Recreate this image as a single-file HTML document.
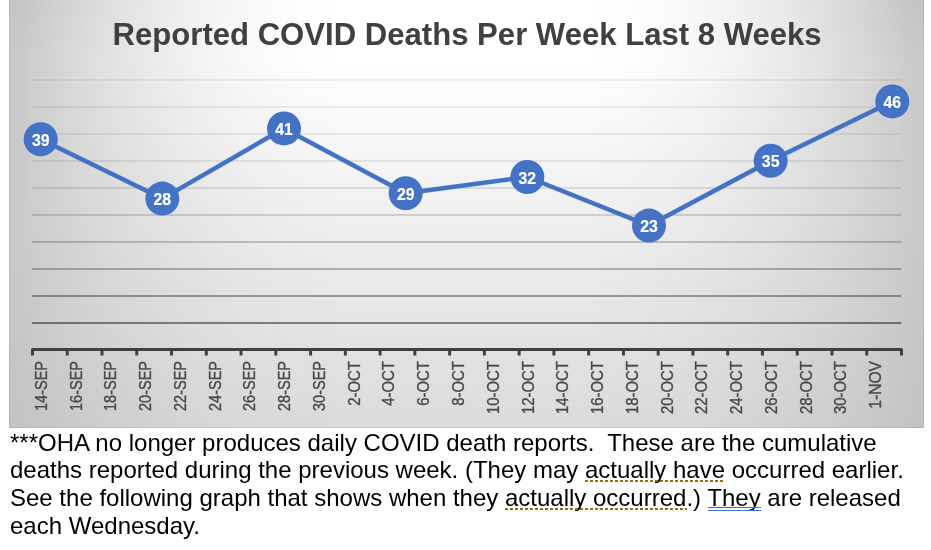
<!DOCTYPE html>
<html><head><meta charset="utf-8"><style>
html,body{margin:0;padding:0;background:#fff;width:931px;height:550px;overflow:hidden;position:relative}
.txt{position:absolute;left:10px;top:429px;width:925px;font-family:"Liberation Sans",sans-serif;font-size:24px;line-height:27.4px;color:#000;white-space:nowrap}
.dot{position:absolute;height:2px;background:repeating-linear-gradient(90deg,#9a6a14 0,#9a6a14 3px,transparent 3px,transparent 5px)}
.bl{position:absolute;height:1px;background:#3a6fdc}
</style></head><body>
<svg width="931" height="428" viewBox="0 0 931 428" style="position:absolute;left:0;top:0">
<defs><linearGradient id="vg" gradientUnits="userSpaceOnUse" x1="0" y1="0" x2="0" y2="428"><stop offset="0" stop-color="#fff"/><stop offset="0.1402" stop-color="#fff"/><stop offset="1" stop-color="rgb(219,219,219)"/></linearGradient>
<linearGradient id="hg" gradientUnits="userSpaceOnUse" x1="9" y1="0" x2="924" y2="0"><stop offset="0.0000" stop-color="rgb(255,255,255)"/><stop offset="0.0087" stop-color="rgb(255,255,255)"/><stop offset="0.0175" stop-color="rgb(248,248,248)"/><stop offset="0.0262" stop-color="rgb(236,236,236)"/><stop offset="0.0350" stop-color="rgb(225,225,225)"/><stop offset="0.0437" stop-color="rgb(214,214,214)"/><stop offset="0.0525" stop-color="rgb(203,203,203)"/><stop offset="0.0612" stop-color="rgb(193,193,193)"/><stop offset="0.0699" stop-color="rgb(183,183,183)"/><stop offset="0.0787" stop-color="rgb(173,173,173)"/><stop offset="0.0874" stop-color="rgb(163,163,163)"/><stop offset="0.0962" stop-color="rgb(154,154,154)"/><stop offset="0.1049" stop-color="rgb(145,145,145)"/><stop offset="0.1137" stop-color="rgb(136,136,136)"/><stop offset="0.1224" stop-color="rgb(128,128,128)"/><stop offset="0.1311" stop-color="rgb(120,120,120)"/><stop offset="0.1399" stop-color="rgb(112,112,112)"/><stop offset="0.1486" stop-color="rgb(104,104,104)"/><stop offset="0.1574" stop-color="rgb(97,97,97)"/><stop offset="0.1661" stop-color="rgb(90,90,90)"/><stop offset="0.1749" stop-color="rgb(83,83,83)"/><stop offset="0.1836" stop-color="rgb(76,76,76)"/><stop offset="0.1923" stop-color="rgb(70,70,70)"/><stop offset="0.2011" stop-color="rgb(64,64,64)"/><stop offset="0.2098" stop-color="rgb(58,58,58)"/><stop offset="0.2186" stop-color="rgb(53,53,53)"/><stop offset="0.2273" stop-color="rgb(47,47,47)"/><stop offset="0.2361" stop-color="rgb(42,42,42)"/><stop offset="0.2448" stop-color="rgb(38,38,38)"/><stop offset="0.2536" stop-color="rgb(33,33,33)"/><stop offset="0.2623" stop-color="rgb(29,29,29)"/><stop offset="0.2710" stop-color="rgb(25,25,25)"/><stop offset="0.2798" stop-color="rgb(22,22,22)"/><stop offset="0.2885" stop-color="rgb(18,18,18)"/><stop offset="0.2973" stop-color="rgb(15,15,15)"/><stop offset="0.3060" stop-color="rgb(13,13,13)"/><stop offset="0.3148" stop-color="rgb(10,10,10)"/><stop offset="0.3235" stop-color="rgb(8,8,8)"/><stop offset="0.3322" stop-color="rgb(6,6,6)"/><stop offset="0.3410" stop-color="rgb(4,4,4)"/><stop offset="0.3497" stop-color="rgb(3,3,3)"/><stop offset="0.3585" stop-color="rgb(2,2,2)"/><stop offset="0.3672" stop-color="rgb(1,1,1)"/><stop offset="0.3760" stop-color="rgb(0,0,0)"/><stop offset="0.3847" stop-color="rgb(0,0,0)"/><stop offset="0.3934" stop-color="rgb(0,0,0)"/><stop offset="0.4022" stop-color="rgb(0,0,0)"/><stop offset="0.4109" stop-color="rgb(0,0,0)"/><stop offset="0.4197" stop-color="rgb(0,0,0)"/><stop offset="0.4284" stop-color="rgb(0,0,0)"/><stop offset="0.4372" stop-color="rgb(0,0,0)"/><stop offset="0.4459" stop-color="rgb(0,0,0)"/><stop offset="0.4546" stop-color="rgb(0,0,0)"/><stop offset="0.4634" stop-color="rgb(0,0,0)"/><stop offset="0.4721" stop-color="rgb(0,0,0)"/><stop offset="0.4809" stop-color="rgb(0,0,0)"/><stop offset="0.4896" stop-color="rgb(0,0,0)"/><stop offset="0.4984" stop-color="rgb(0,0,0)"/><stop offset="0.5071" stop-color="rgb(0,0,0)"/><stop offset="0.5158" stop-color="rgb(0,0,0)"/><stop offset="0.5246" stop-color="rgb(0,0,0)"/><stop offset="0.5333" stop-color="rgb(0,0,0)"/><stop offset="0.5421" stop-color="rgb(0,0,0)"/><stop offset="0.5508" stop-color="rgb(0,0,0)"/><stop offset="0.5596" stop-color="rgb(0,0,0)"/><stop offset="0.5683" stop-color="rgb(0,0,0)"/><stop offset="0.5770" stop-color="rgb(0,0,0)"/><stop offset="0.5858" stop-color="rgb(0,0,0)"/><stop offset="0.5945" stop-color="rgb(0,0,0)"/><stop offset="0.6033" stop-color="rgb(0,0,0)"/><stop offset="0.6120" stop-color="rgb(0,0,0)"/><stop offset="0.6208" stop-color="rgb(0,0,0)"/><stop offset="0.6295" stop-color="rgb(1,1,1)"/><stop offset="0.6383" stop-color="rgb(2,2,2)"/><stop offset="0.6470" stop-color="rgb(3,3,3)"/><stop offset="0.6557" stop-color="rgb(4,4,4)"/><stop offset="0.6645" stop-color="rgb(6,6,6)"/><stop offset="0.6732" stop-color="rgb(7,7,7)"/><stop offset="0.6820" stop-color="rgb(10,10,10)"/><stop offset="0.6907" stop-color="rgb(12,12,12)"/><stop offset="0.6995" stop-color="rgb(15,15,15)"/><stop offset="0.7082" stop-color="rgb(18,18,18)"/><stop offset="0.7169" stop-color="rgb(21,21,21)"/><stop offset="0.7257" stop-color="rgb(24,24,24)"/><stop offset="0.7344" stop-color="rgb(28,28,28)"/><stop offset="0.7432" stop-color="rgb(32,32,32)"/><stop offset="0.7519" stop-color="rgb(37,37,37)"/><stop offset="0.7607" stop-color="rgb(41,41,41)"/><stop offset="0.7694" stop-color="rgb(46,46,46)"/><stop offset="0.7781" stop-color="rgb(51,51,51)"/><stop offset="0.7869" stop-color="rgb(57,57,57)"/><stop offset="0.7956" stop-color="rgb(62,62,62)"/><stop offset="0.8044" stop-color="rgb(68,68,68)"/><stop offset="0.8131" stop-color="rgb(74,74,74)"/><stop offset="0.8219" stop-color="rgb(81,81,81)"/><stop offset="0.8306" stop-color="rgb(88,88,88)"/><stop offset="0.8393" stop-color="rgb(95,95,95)"/><stop offset="0.8481" stop-color="rgb(102,102,102)"/><stop offset="0.8568" stop-color="rgb(110,110,110)"/><stop offset="0.8656" stop-color="rgb(118,118,118)"/><stop offset="0.8743" stop-color="rgb(126,126,126)"/><stop offset="0.8831" stop-color="rgb(134,134,134)"/><stop offset="0.8918" stop-color="rgb(143,143,143)"/><stop offset="0.9005" stop-color="rgb(152,152,152)"/><stop offset="0.9093" stop-color="rgb(161,161,161)"/><stop offset="0.9180" stop-color="rgb(171,171,171)"/><stop offset="0.9268" stop-color="rgb(180,180,180)"/><stop offset="0.9355" stop-color="rgb(190,190,190)"/><stop offset="0.9443" stop-color="rgb(201,201,201)"/><stop offset="0.9530" stop-color="rgb(211,211,211)"/><stop offset="0.9617" stop-color="rgb(222,222,222)"/><stop offset="0.9705" stop-color="rgb(233,233,233)"/><stop offset="0.9792" stop-color="rgb(245,245,245)"/><stop offset="0.9880" stop-color="rgb(255,255,255)"/><stop offset="0.9967" stop-color="rgb(255,255,255)"/></linearGradient>
<linearGradient id="eg" gradientUnits="userSpaceOnUse" x1="0" y1="0" x2="0" y2="428"><stop offset="0.0000" stop-color="rgb(196,196,196)"/><stop offset="0.1402" stop-color="rgb(202,202,202)"/><stop offset="0.5327" stop-color="rgb(202,202,202)"/><stop offset="1.0000" stop-color="rgb(195,195,195)"/></linearGradient>
<mask id="hm" maskUnits="userSpaceOnUse" x="0" y="0" width="931" height="428"><rect x="9" y="0" width="915" height="428" fill="url(#hg)"/></mask></defs>
<rect x="9" y="0" width="915" height="428" fill="url(#vg)"/>
<rect x="9" y="0" width="915" height="428" fill="url(#eg)" mask="url(#hm)"/>
<path d="M9.5 0 V427.5 H923.5 V0" fill="none" stroke="rgb(236,236,236)" stroke-width="1" style="mix-blend-mode:multiply"/>
<text x="467.1" y="45" text-anchor="middle" font-family="Liberation Sans" font-weight="bold" font-size="31.1" fill="#404040">Reported COVID Deaths Per Week Last 8 Weeks</text>
<g style="mix-blend-mode:multiply">
<line x1="32.0" y1="80.00" x2="901.0" y2="80.00" stroke="rgb(240,240,240)" stroke-width="2.0"/>
<line x1="32.0" y1="107.00" x2="901.0" y2="107.00" stroke="rgb(239,239,239)" stroke-width="2.0"/>
<line x1="32.0" y1="134.00" x2="901.0" y2="134.00" stroke="rgb(238,238,238)" stroke-width="2.0"/>
<line x1="32.0" y1="161.00" x2="901.0" y2="161.00" stroke="rgb(235,235,235)" stroke-width="2.0"/>
<line x1="32.0" y1="188.00" x2="901.0" y2="188.00" stroke="rgb(229,229,229)" stroke-width="2.0"/>
<line x1="32.0" y1="215.00" x2="901.0" y2="215.00" stroke="rgb(219,219,219)" stroke-width="2.0"/>
<line x1="32.0" y1="242.00" x2="901.0" y2="242.00" stroke="rgb(206,206,206)" stroke-width="2.0"/>
<line x1="32.0" y1="269.00" x2="901.0" y2="269.00" stroke="rgb(189,189,189)" stroke-width="2.0"/>
<line x1="32.0" y1="296.00" x2="901.0" y2="296.00" stroke="rgb(167,167,167)" stroke-width="2.0"/>
<line x1="32.0" y1="323.00" x2="901.0" y2="323.00" stroke="rgb(140,140,140)" stroke-width="2.0"/>
</g>
<path d="M32.50 355.5 V349.5 H901.50 V355.5" fill="none" stroke="#404040" stroke-width="3" stroke-linejoin="round"/>
<line x1="67.26" y1="348" x2="67.26" y2="355.5" stroke="#404040" stroke-width="3"/>
<line x1="102.02" y1="348" x2="102.02" y2="355.5" stroke="#404040" stroke-width="3"/>
<line x1="136.78" y1="348" x2="136.78" y2="355.5" stroke="#404040" stroke-width="3"/>
<line x1="171.54" y1="348" x2="171.54" y2="355.5" stroke="#404040" stroke-width="3"/>
<line x1="206.30" y1="348" x2="206.30" y2="355.5" stroke="#404040" stroke-width="3"/>
<line x1="241.06" y1="348" x2="241.06" y2="355.5" stroke="#404040" stroke-width="3"/>
<line x1="275.82" y1="348" x2="275.82" y2="355.5" stroke="#404040" stroke-width="3"/>
<line x1="310.58" y1="348" x2="310.58" y2="355.5" stroke="#404040" stroke-width="3"/>
<line x1="345.34" y1="348" x2="345.34" y2="355.5" stroke="#404040" stroke-width="3"/>
<line x1="380.10" y1="348" x2="380.10" y2="355.5" stroke="#404040" stroke-width="3"/>
<line x1="414.86" y1="348" x2="414.86" y2="355.5" stroke="#404040" stroke-width="3"/>
<line x1="449.62" y1="348" x2="449.62" y2="355.5" stroke="#404040" stroke-width="3"/>
<line x1="484.38" y1="348" x2="484.38" y2="355.5" stroke="#404040" stroke-width="3"/>
<line x1="519.14" y1="348" x2="519.14" y2="355.5" stroke="#404040" stroke-width="3"/>
<line x1="553.90" y1="348" x2="553.90" y2="355.5" stroke="#404040" stroke-width="3"/>
<line x1="588.66" y1="348" x2="588.66" y2="355.5" stroke="#404040" stroke-width="3"/>
<line x1="623.42" y1="348" x2="623.42" y2="355.5" stroke="#404040" stroke-width="3"/>
<line x1="658.18" y1="348" x2="658.18" y2="355.5" stroke="#404040" stroke-width="3"/>
<line x1="692.94" y1="348" x2="692.94" y2="355.5" stroke="#404040" stroke-width="3"/>
<line x1="727.70" y1="348" x2="727.70" y2="355.5" stroke="#404040" stroke-width="3"/>
<line x1="762.46" y1="348" x2="762.46" y2="355.5" stroke="#404040" stroke-width="3"/>
<line x1="797.22" y1="348" x2="797.22" y2="355.5" stroke="#404040" stroke-width="3"/>
<line x1="831.98" y1="348" x2="831.98" y2="355.5" stroke="#404040" stroke-width="3"/>
<line x1="866.74" y1="348" x2="866.74" y2="355.5" stroke="#404040" stroke-width="3"/>
<text transform="translate(46.89 361) rotate(-90) scale(0.9117999999999999 1)" text-anchor="end" font-family="Liberation Sans" font-size="15.9" fill="#4a4a4a" stroke="#4a4a4a" stroke-width="0.35">14-SEP</text>
<text transform="translate(81.65 361) rotate(-90) scale(0.9117999999999999 1)" text-anchor="end" font-family="Liberation Sans" font-size="15.9" fill="#4a4a4a" stroke="#4a4a4a" stroke-width="0.35">16-SEP</text>
<text transform="translate(116.41 361) rotate(-90) scale(0.9117999999999999 1)" text-anchor="end" font-family="Liberation Sans" font-size="15.9" fill="#4a4a4a" stroke="#4a4a4a" stroke-width="0.35">18-SEP</text>
<text transform="translate(151.17 361) rotate(-90) scale(0.9117999999999999 1)" text-anchor="end" font-family="Liberation Sans" font-size="15.9" fill="#4a4a4a" stroke="#4a4a4a" stroke-width="0.35">20-SEP</text>
<text transform="translate(185.93 361) rotate(-90) scale(0.9117999999999999 1)" text-anchor="end" font-family="Liberation Sans" font-size="15.9" fill="#4a4a4a" stroke="#4a4a4a" stroke-width="0.35">22-SEP</text>
<text transform="translate(220.69 361) rotate(-90) scale(0.9117999999999999 1)" text-anchor="end" font-family="Liberation Sans" font-size="15.9" fill="#4a4a4a" stroke="#4a4a4a" stroke-width="0.35">24-SEP</text>
<text transform="translate(255.45 361) rotate(-90) scale(0.9117999999999999 1)" text-anchor="end" font-family="Liberation Sans" font-size="15.9" fill="#4a4a4a" stroke="#4a4a4a" stroke-width="0.35">26-SEP</text>
<text transform="translate(290.21 361) rotate(-90) scale(0.9117999999999999 1)" text-anchor="end" font-family="Liberation Sans" font-size="15.9" fill="#4a4a4a" stroke="#4a4a4a" stroke-width="0.35">28-SEP</text>
<text transform="translate(324.97 361) rotate(-90) scale(0.9117999999999999 1)" text-anchor="end" font-family="Liberation Sans" font-size="15.9" fill="#4a4a4a" stroke="#4a4a4a" stroke-width="0.35">30-SEP</text>
<text transform="translate(359.73 361) rotate(-90) scale(0.94 1)" text-anchor="end" font-family="Liberation Sans" font-size="15.9" fill="#4a4a4a" stroke="#4a4a4a" stroke-width="0.35">2-OCT</text>
<text transform="translate(394.49 361) rotate(-90) scale(0.94 1)" text-anchor="end" font-family="Liberation Sans" font-size="15.9" fill="#4a4a4a" stroke="#4a4a4a" stroke-width="0.35">4-OCT</text>
<text transform="translate(429.25 361) rotate(-90) scale(0.94 1)" text-anchor="end" font-family="Liberation Sans" font-size="15.9" fill="#4a4a4a" stroke="#4a4a4a" stroke-width="0.35">6-OCT</text>
<text transform="translate(464.01 361) rotate(-90) scale(0.94 1)" text-anchor="end" font-family="Liberation Sans" font-size="15.9" fill="#4a4a4a" stroke="#4a4a4a" stroke-width="0.35">8-OCT</text>
<text transform="translate(498.77 361) rotate(-90) scale(0.94 1)" text-anchor="end" font-family="Liberation Sans" font-size="15.9" fill="#4a4a4a" stroke="#4a4a4a" stroke-width="0.35">10-OCT</text>
<text transform="translate(533.53 361) rotate(-90) scale(0.94 1)" text-anchor="end" font-family="Liberation Sans" font-size="15.9" fill="#4a4a4a" stroke="#4a4a4a" stroke-width="0.35">12-OCT</text>
<text transform="translate(568.29 361) rotate(-90) scale(0.94 1)" text-anchor="end" font-family="Liberation Sans" font-size="15.9" fill="#4a4a4a" stroke="#4a4a4a" stroke-width="0.35">14-OCT</text>
<text transform="translate(603.05 361) rotate(-90) scale(0.94 1)" text-anchor="end" font-family="Liberation Sans" font-size="15.9" fill="#4a4a4a" stroke="#4a4a4a" stroke-width="0.35">16-OCT</text>
<text transform="translate(637.81 361) rotate(-90) scale(0.94 1)" text-anchor="end" font-family="Liberation Sans" font-size="15.9" fill="#4a4a4a" stroke="#4a4a4a" stroke-width="0.35">18-OCT</text>
<text transform="translate(672.57 361) rotate(-90) scale(0.94 1)" text-anchor="end" font-family="Liberation Sans" font-size="15.9" fill="#4a4a4a" stroke="#4a4a4a" stroke-width="0.35">20-OCT</text>
<text transform="translate(707.33 361) rotate(-90) scale(0.94 1)" text-anchor="end" font-family="Liberation Sans" font-size="15.9" fill="#4a4a4a" stroke="#4a4a4a" stroke-width="0.35">22-OCT</text>
<text transform="translate(742.09 361) rotate(-90) scale(0.94 1)" text-anchor="end" font-family="Liberation Sans" font-size="15.9" fill="#4a4a4a" stroke="#4a4a4a" stroke-width="0.35">24-OCT</text>
<text transform="translate(776.85 361) rotate(-90) scale(0.94 1)" text-anchor="end" font-family="Liberation Sans" font-size="15.9" fill="#4a4a4a" stroke="#4a4a4a" stroke-width="0.35">26-OCT</text>
<text transform="translate(811.61 361) rotate(-90) scale(0.94 1)" text-anchor="end" font-family="Liberation Sans" font-size="15.9" fill="#4a4a4a" stroke="#4a4a4a" stroke-width="0.35">28-OCT</text>
<text transform="translate(846.37 361) rotate(-90) scale(0.94 1)" text-anchor="end" font-family="Liberation Sans" font-size="15.9" fill="#4a4a4a" stroke="#4a4a4a" stroke-width="0.35">30-OCT</text>
<text transform="translate(881.13 361) rotate(-90) scale(0.9822999999999998 1)" text-anchor="end" font-family="Liberation Sans" font-size="15.9" fill="#4a4a4a" stroke="#4a4a4a" stroke-width="0.35">1-NOV</text>
<polyline fill="none" stroke="#4472c4" stroke-width="4.5" stroke-linejoin="round" points="40.69,139.20 162.35,198.60 284.01,128.40 405.67,193.20 527.33,177.00 648.99,225.60 770.65,160.80 892.31,101.40"/>
<circle cx="40.69" cy="139.20" r="17" fill="#4472c4"/>
<text transform="translate(40.69 145.70) scale(1.0 1)" text-anchor="middle" font-family="Liberation Sans" font-weight="bold" font-size="15.8" fill="#ffffff" stroke="#ffffff" stroke-width="0.2">39</text>
<circle cx="162.35" cy="198.60" r="17" fill="#4472c4"/>
<text transform="translate(162.35 205.10) scale(1.0 1)" text-anchor="middle" font-family="Liberation Sans" font-weight="bold" font-size="15.8" fill="#ffffff" stroke="#ffffff" stroke-width="0.2">28</text>
<circle cx="284.01" cy="128.40" r="17" fill="#4472c4"/>
<text transform="translate(284.01 134.90) scale(1.0 1)" text-anchor="middle" font-family="Liberation Sans" font-weight="bold" font-size="15.8" fill="#ffffff" stroke="#ffffff" stroke-width="0.2">41</text>
<circle cx="405.67" cy="193.20" r="17" fill="#4472c4"/>
<text transform="translate(405.67 199.70) scale(1.0 1)" text-anchor="middle" font-family="Liberation Sans" font-weight="bold" font-size="15.8" fill="#ffffff" stroke="#ffffff" stroke-width="0.2">29</text>
<circle cx="527.33" cy="177.00" r="17" fill="#4472c4"/>
<text transform="translate(527.33 183.50) scale(1.0 1)" text-anchor="middle" font-family="Liberation Sans" font-weight="bold" font-size="15.8" fill="#ffffff" stroke="#ffffff" stroke-width="0.2">32</text>
<circle cx="648.99" cy="225.60" r="17" fill="#4472c4"/>
<text transform="translate(648.99 232.10) scale(1.0 1)" text-anchor="middle" font-family="Liberation Sans" font-weight="bold" font-size="15.8" fill="#ffffff" stroke="#ffffff" stroke-width="0.2">23</text>
<circle cx="770.65" cy="160.80" r="17" fill="#4472c4"/>
<text transform="translate(770.65 167.30) scale(1.0 1)" text-anchor="middle" font-family="Liberation Sans" font-weight="bold" font-size="15.8" fill="#ffffff" stroke="#ffffff" stroke-width="0.2">35</text>
<circle cx="892.31" cy="101.40" r="17" fill="#4472c4"/>
<text transform="translate(892.31 107.90) scale(1.0 1)" text-anchor="middle" font-family="Liberation Sans" font-weight="bold" font-size="15.8" fill="#ffffff" stroke="#ffffff" stroke-width="0.2">46</text>
</svg>
<div class="txt">***OHA no longer produces daily COVID death reports.&nbsp; These are the cumulative<br>deaths reported during the previous week. (They may actually have occurred earlier.<br>See the following graph that shows when they actually occurred.) They are released<br><span style="position:relative;top:0.9px">each Wednesday.</span></div>
<div class="dot" style="left:585px;top:480px;width:140px"></div>
<div class="dot" style="left:505px;top:508px;width:182px"></div>
<div class="bl" style="left:708px;top:507px;width:53px"></div>
<div class="bl" style="left:708px;top:510px;width:53px"></div>
</body></html>
